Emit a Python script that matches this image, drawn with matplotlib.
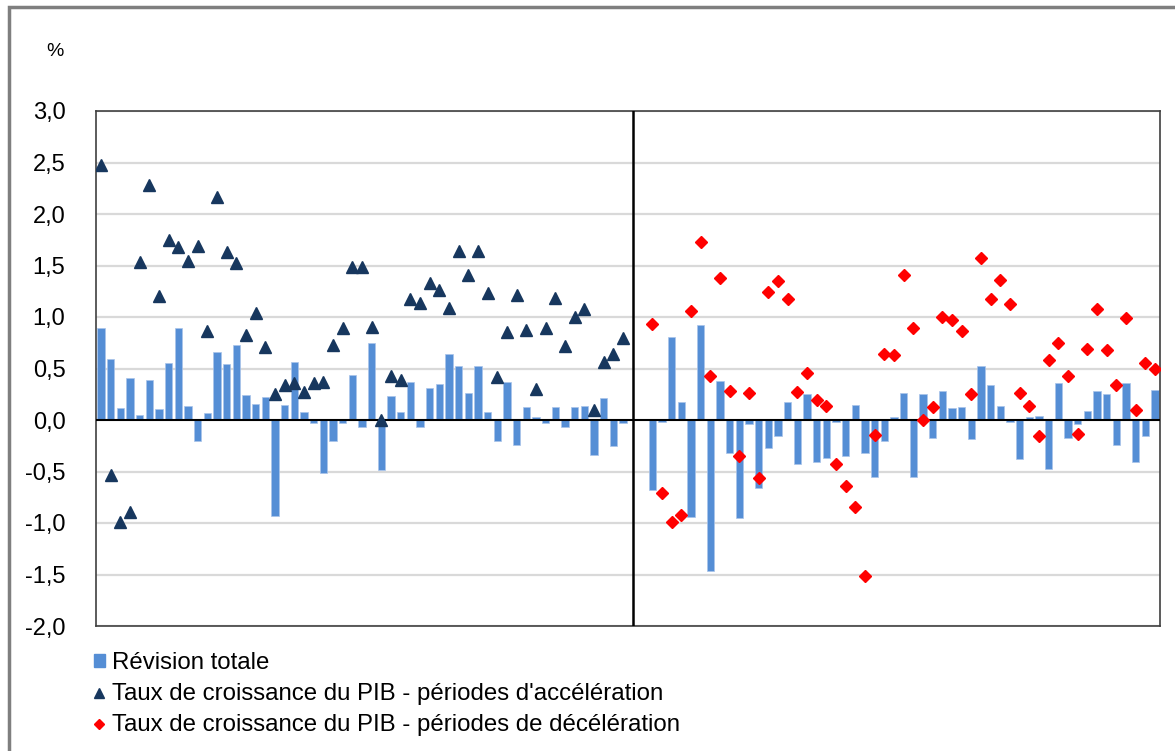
import numpy as np
import matplotlib
matplotlib.use("Agg")
import matplotlib.pyplot as plt
from matplotlib.patches import Rectangle, Patch
from matplotlib.lines import Line2D

plt.rcParams['font.family'] = ['Liberation Sans', 'DejaVu Sans']

# ---- data ----
rev_left = [0.89, 0.59, 0.12, 0.41, 0.045, 0.39, 0.105, 0.55, 0.89, 0.14, -0.20, 0.07, 0.66, 0.54, 0.73, 0.24, 0.155, 0.22, -0.935,
            0.15, 0.565, 0.08, -0.03, -0.51, -0.20, -0.03, 0.44, -0.07, 0.75, -0.49, 0.23, 0.08, 0.365, -0.07, 0.31, 0.35, 0.64, 0.525,
            0.265, 0.525, 0.08, -0.20, 0.365, -0.245, 0.13, 0.03, -0.03, 0.13, -0.07, 0.13, 0.14, -0.335, 0.215, -0.25, -0.03]
acc_growth = [2.48, -0.53, -0.99, -0.89, 1.53, 2.28, 1.20, 1.745, 1.68, 1.54, 1.69, 0.865, 2.165, 1.635, 1.52, 0.83, 1.04, 0.71, 0.25,
              0.34, 0.355, 0.27, 0.36, 0.37, 0.73, 0.895, 1.485, 1.485, 0.905, 0.0, 0.425, 0.39, 1.17, 1.135, 1.33, 1.265, 1.085, 1.64,
              1.41, 1.64, 1.235, 0.415, 0.85, 1.21, 0.875, 0.30, 0.89, 1.18, 0.72, 1.00, 1.075, 0.10, 0.565, 0.64, 0.795]
rev_right = [-0.675, -0.015, 0.81, 0.17, -0.94, 0.925, -1.47, 0.38, -0.32, -0.95, -0.04, -0.665, -0.27, -0.16, 0.17, -0.43, 0.255,
             -0.405, -0.37, -0.02, -0.345, 0.15, -0.32, -0.555, -0.205, 0.03, 0.265, -0.555, 0.25, -0.17, 0.28, 0.115, 0.125, -0.18,
             0.525, 0.34, 0.14, -0.02, -0.38, 0.025, 0.04, -0.48, 0.355, -0.17, -0.04, 0.09, 0.28, 0.25, -0.245, 0.355, -0.405, -0.16, 0.29]
dec_growth = [0.93, -0.71, -0.99, -0.925, 1.06, 1.73, 0.43, 1.38, 0.28, -0.345, 0.26, -0.56, 1.245, 1.35, 1.17, 0.275, 0.455,
              0.195, 0.135, -0.425, -0.645, -0.845, -1.515, -0.15, 0.645, 0.63, 1.41, 0.895, 0.0, 0.125, 1.0, 0.97, 0.86, 0.255,
              1.57, 1.17, 1.355, 1.125, 0.265, 0.135, -0.155, 0.585, 0.75, 0.425, -0.135, 0.69, 1.08, 0.675, 0.34, 0.99, 0.1, 0.555, 0.5]
gap_categories = 2  # empty slots between the two periods (divider sits on the first)
yticks = [-2.0, -1.5, -1.0, -0.5, 0.0, 0.5, 1.0, 1.5, 2.0, 2.5, 3.0]
labels = ["Révision totale",
          "Taux de croissance du PIB - périodes d'accélération",
          "Taux de croissance du PIB - périodes de décélération"]

# ---- positions ----
nL, nR = len(rev_left), len(rev_right)
xL = np.arange(1, nL + 1)
x_div = nL + 1
xR = np.arange(nL + gap_categories + 1, nL + gap_categories + nR + 1)
xmax = xR[-1]

BAR = '#558ed5'
NAVY = '#17375e'
RED = '#ff0000'

fig = plt.figure(figsize=(11.75, 7.51), dpi=100)
ax = fig.add_axes([96/1175, 1 - 626/751, (1160 - 96)/1175, (626 - 111)/751])

for y in yticks:
    if y != 0:
        ax.axhline(y, color='#d9d9d9', lw=1.6, zorder=0)

ax.bar(xL, rev_left, width=0.76, color=BAR, edgecolor='#a9c4ea', linewidth=0.5, zorder=2)
ax.bar(xR, rev_right, width=0.76, color=BAR, edgecolor='#a9c4ea', linewidth=0.5, zorder=2)
ax.axhline(0, color='black', lw=1.5, zorder=3)
ax.axvline(x_div, color='black', lw=1.8, zorder=3)
ax.plot(xL, acc_growth, linestyle='none', marker='^', markersize=8, color=NAVY,
        markeredgecolor=NAVY, zorder=4)
ax.plot(xR, dec_growth, linestyle='none', marker='D', markersize=6.5, color=RED,
        markeredgecolor=RED, zorder=4)

ax.set_xlim(0.5, xmax + 0.5)
ax.set_ylim(-2.0, 3.0)
ax.set_yticks(yticks)
ax.set_yticklabels([f"{v:.1f}".replace('.', ',') for v in yticks], fontsize=17)
ax.tick_params(axis='y', length=0, pad=22)
ax.set_xticks([])
for s in ax.spines.values():
    s.set_color('#404040')
    s.set_linewidth(1.2)

fig.text(55/1175, 1 - 52/751, '%', fontsize=14, ha='center', va='center')

handles = [Patch(facecolor=BAR, edgecolor=BAR),
           Line2D([], [], linestyle='none', marker='^', markersize=7, color=NAVY),
           Line2D([], [], linestyle='none', marker='D', markersize=5.5, color=RED)]
fig.legend(handles, labels, loc='upper left', bbox_to_anchor=(94/1175, 1 - 652/751),
           frameon=False, fontsize=17.3, handlelength=0.45, handleheight=0.45,
           handletextpad=0.3, labelspacing=0.38, borderpad=0, borderaxespad=0)

# outer border of the chart area
fig.patches.append(Rectangle((9/1175, -0.05), 1.2, 1 - 7/751 + 0.05, transform=fig.transFigure,
                             fill=False, edgecolor='#7f7f7f', linewidth=2.5, zorder=10))

fig.savefig('out.png', dpi=100)
